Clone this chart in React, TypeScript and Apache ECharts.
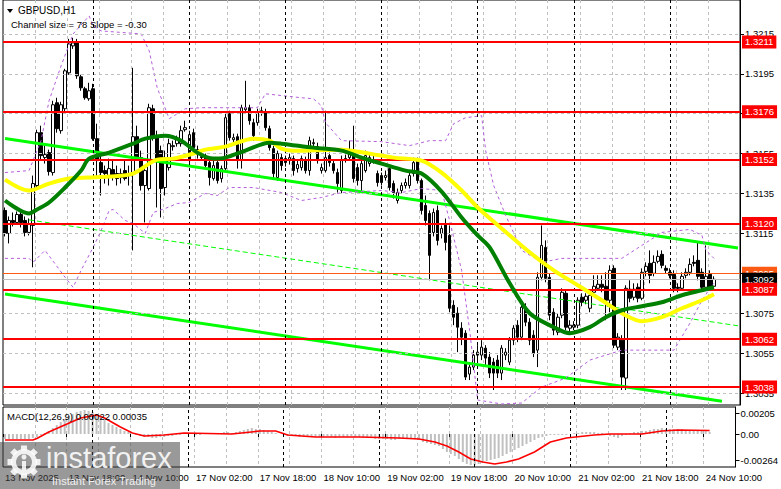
import React, { useEffect, useRef } from "react";
import * as echarts from "echarts";

const FONT = "'Liberation Sans', Arial, sans-serif";

const tickLabels = ["13 Nov 2025", "13 Nov 18:00", "14 Nov 10:00", "17 Nov 02:00", "17 Nov 18:00", "18 Nov 10:00", "19 Nov 02:00", "19 Nov 18:00", "20 Nov 10:00", "21 Nov 02:00", "21 Nov 18:00", "24 Nov 10:00"];
const daySeparators = [22, 46, 70, 94, 118, 142, 166];

const opens = [1.31265,1.3115,1.31215,1.31205,1.31245,1.31215,1.31155,1.3119,1.3139,1.31655,1.3153,1.31555,1.31455,1.31805,1.31665,1.31775,1.31955,1.3209,1.32105,1.31935,1.31875,1.31825,1.31875,1.31625,1.31505,1.31465,1.31435,1.3147,1.3145,1.3143,1.31465,1.3144,1.31455,1.31635,1.3153,1.3139,1.31375,1.31775,1.3164,1.31565,1.3138,1.3148,1.31585,1.316,1.316,1.3167,1.31515,1.31655,1.3157,1.31535,1.3153,1.31505,1.31425,1.31505,1.31425,1.31475,1.3175,1.3162,1.31635,1.31515,1.3177,1.3178,1.31705,1.31705,1.31755,1.3176,1.31675,1.31575,1.3143,1.3153,1.31525,1.31515,1.31525,1.31475,1.3148,1.31515,1.31465,1.316,1.31585,1.31465,1.31465,1.3154,1.315,1.31455,1.31365,1.31525,1.3153,1.31565,1.3148,1.31415,1.31465,1.315,1.3152,1.3145,1.3144,1.3143,1.31475,1.314,1.31315,1.31365,1.3139,1.3139,1.3145,1.31515,1.31415,1.3129,1.3125,1.31155,1.31265,1.3115,1.312,1.3114,1.3079,1.3075,1.30675,1.3065,1.30445,1.3048,1.3054,1.3054,1.30575,1.3053,1.30505,1.30515,1.3045,1.3054,1.30505,1.30615,1.3069,1.3063,1.3078,1.30705,1.3064,1.30565,1.3093,1.3108,1.3093,1.30755,1.30655,1.3074,1.3085,1.30675,1.3068,1.3069,1.3083,1.30815,1.30775,1.30855,1.30875,1.30895,1.30885,1.30815,1.30975,1.3058,1.30615,1.30425,1.3087,1.3083,1.3088,1.30825,1.3096,1.31,1.3095,1.3101,1.31045,1.30975,1.30955,1.30945,1.3088,1.30875,1.3094,1.30955,1.31005,1.31015,1.30955,1.3088,1.30945,1.30885];
const closes = [1.3115,1.31215,1.31205,1.31245,1.31205,1.31155,1.312,1.314,1.31655,1.3154,1.31545,1.3146,1.31795,1.31675,1.31795,1.31965,1.321,1.32105,1.3194,1.3188,1.3183,1.31865,1.31625,1.31515,1.31455,1.3145,1.31475,1.31435,1.31425,1.3145,1.31425,1.3145,1.31635,1.3153,1.3139,1.31465,1.3178,1.3164,1.31515,1.31375,1.3153,1.316,1.3159,1.31625,1.31665,1.3168,1.31645,1.3158,1.31545,1.3153,1.3149,1.3143,1.3149,1.31415,1.31475,1.3173,1.3163,1.3163,1.31515,1.3178,1.3178,1.31715,1.3164,1.31755,1.31765,1.3168,1.3158,1.3145,1.3155,1.3149,1.31505,1.3153,1.31465,1.31495,1.31525,1.31465,1.31615,1.31605,1.31515,1.3148,1.3153,1.31505,1.31465,1.314,1.31515,1.3152,1.31555,1.31425,1.31415,1.315,1.3154,1.3153,1.31515,1.31405,1.31405,1.3144,1.3138,1.31355,1.31355,1.3139,1.31405,1.3144,1.31505,1.31415,1.31265,1.31215,1.3104,1.31255,1.31115,1.31175,1.31105,1.30775,1.3073,1.3068,1.3063,1.3043,1.3048,1.3054,1.30555,1.3058,1.30525,1.3045,1.3045,1.3045,1.30575,1.30555,1.30615,1.30675,1.3063,1.3078,1.30705,1.30615,1.3055,1.3093,1.3109,1.30925,1.3074,1.30665,1.3073,1.30855,1.3068,1.3069,1.3069,1.30815,1.30805,1.30835,1.3084,1.30885,1.30895,1.3088,1.30815,1.30965,1.3059,1.3063,1.3043,1.30875,1.30825,1.3087,1.30825,1.30955,1.30985,1.3094,1.31005,1.31035,1.3099,1.30965,1.3094,1.30875,1.30875,1.30935,1.30955,1.30995,1.31,1.30935,1.3088,1.30935,1.3088,1.3092];
const highs = [1.3128,1.31235,1.31255,1.3126,1.31265,1.31235,1.31225,1.3144,1.3167,1.3169,1.3159,1.3157,1.31815,1.3183,1.3181,1.31975,1.32125,1.3213,1.32125,1.31945,1.31885,1.31905,1.319,1.317,1.3154,1.3149,1.31525,1.31515,1.3149,1.31475,1.31515,1.3149,1.3198,1.3169,1.31565,1.3149,1.318,1.31795,1.31665,1.3159,1.31565,1.31625,1.31615,1.3164,1.3169,1.31715,1.31665,1.31675,1.3159,1.31565,1.3155,1.31525,1.31515,1.31525,1.3149,1.31755,1.31765,1.3165,1.3165,1.31795,1.31915,1.31795,1.31725,1.31775,1.31785,1.31775,1.3169,1.3159,1.31565,1.3155,1.3154,1.3155,1.3154,1.31515,1.3154,1.31535,1.31635,1.31625,1.31605,1.315,1.31765,1.31555,1.31515,1.31475,1.3154,1.31545,1.31615,1.3169,1.315,1.31515,1.31565,1.3155,1.31545,1.31465,1.31455,1.31465,1.3149,1.31415,1.31375,1.31405,1.31425,1.31455,1.3153,1.3153,1.31425,1.3134,1.31265,1.31275,1.3129,1.3119,1.31225,1.3119,1.30815,1.3078,1.30705,1.30665,1.30505,1.30565,1.3059,1.30615,1.3059,1.30555,1.30525,1.3054,1.3059,1.30575,1.3063,1.3069,1.30715,1.30795,1.308,1.30725,1.30665,1.30955,1.3119,1.31115,1.3095,1.30775,1.3075,1.30875,1.30865,1.30715,1.3071,1.3083,1.3085,1.3085,1.30865,1.3094,1.3094,1.3094,1.30955,1.3099,1.3099,1.3065,1.3064,1.3089,1.30915,1.309,1.309,1.30975,1.31005,1.31065,1.3104,1.31065,1.31065,1.3099,1.30975,1.30965,1.309,1.30955,1.30975,1.31025,1.3104,1.31105,1.30975,1.3109,1.30965,1.30935];
const lows = [1.31135,1.311,1.31185,1.31195,1.3118,1.31135,1.3114,1.3098,1.31375,1.31515,1.315,1.3144,1.3144,1.31655,1.3165,1.31755,1.31945,1.32075,1.31925,1.31865,1.3182,1.31815,1.31615,1.31425,1.3134,1.314,1.3139,1.31415,1.3139,1.314,1.31415,1.3139,1.31065,1.31515,1.31365,1.31205,1.31365,1.31615,1.3128,1.3123,1.3134,1.31465,1.31565,1.31585,1.31585,1.3166,1.3149,1.31565,1.31525,1.31515,1.31475,1.3139,1.31415,1.314,1.31405,1.31465,1.31615,1.31605,1.31475,1.31475,1.31755,1.31695,1.31615,1.3169,1.3174,1.31665,1.31565,1.31425,1.31415,1.31465,1.31485,1.31495,1.3144,1.31455,1.31465,1.3145,1.3144,1.31585,1.315,1.3145,1.31455,1.31485,1.3145,1.31355,1.3135,1.31505,1.31515,1.31405,1.3139,1.31355,1.31455,1.31485,1.315,1.31385,1.3139,1.31415,1.31365,1.31325,1.313,1.3135,1.31375,1.31375,1.31435,1.314,1.31245,1.3119,1.30915,1.31135,1.3109,1.31125,1.31065,1.30755,1.3069,1.30555,1.3059,1.30415,1.30415,1.30465,1.30515,1.30515,1.3049,1.30425,1.30365,1.30425,1.30415,1.30515,1.3049,1.3059,1.30605,1.30615,1.30685,1.3059,1.3053,1.3048,1.30915,1.30905,1.30715,1.3064,1.3064,1.30725,1.30665,1.30655,1.30665,1.30675,1.30785,1.30795,1.30755,1.30845,1.30865,1.30855,1.30715,1.30755,1.30575,1.30565,1.30365,1.30365,1.30805,1.30815,1.30805,1.30815,1.30935,1.309,1.30935,1.31,1.30975,1.3095,1.30925,1.30855,1.30855,1.30865,1.30925,1.3094,1.30985,1.30915,1.3087,1.30865,1.3087,1.30875];

// moving averages at sample bars: [bar index, price]
const yellowMA = [[0,1.3142],[6,1.31365],[11,1.3140],[16,1.31425],[21,1.3143],[26,1.31435],[32,1.3145],[38,1.3152],[42,1.31525],[47,1.3155],[50,1.3157],[55,1.31585],[62,1.31625],[66,1.31615],[69,1.31575],[72,1.31565],[84,1.3157],[91,1.3155],[97,1.3153],[104,1.31515],[109,1.31455],[114,1.31365],[118,1.3128],[124,1.31175],[131,1.31055],[137,1.30965],[143,1.3089],[149,1.30815],[154,1.3075],[159,1.3071],[164,1.3073],[169,1.30775],[174,1.30815],[177,1.30845]];
const greenMA = [[0,1.31315],[6,1.3125],[8,1.3127],[11,1.31305],[15,1.3138],[19,1.31465],[21,1.31525],[26,1.31555],[32,1.3160],[35,1.31625],[40,1.3164],[44,1.31615],[48,1.31555],[52,1.31525],[55,1.3153],[60,1.31565],[66,1.31605],[69,1.3160],[77,1.3158],[84,1.31565],[89,1.3153],[94,1.3150],[100,1.31465],[104,1.3145],[109,1.3136],[114,1.3123],[118,1.3114],[121,1.3108],[126,1.3090],[131,1.3075],[137,1.3068],[141,1.3065],[146,1.3068],[150,1.3073],[154,1.30765],[159,1.30785],[164,1.30805],[169,1.3084],[174,1.30865],[177,1.3088]];
const upperBand = [[0,1.31455],[6,1.31465],[7,1.31515],[9,1.31615],[11,1.31815],[14,1.3199],[17,1.3215],[21,1.3224],[22,1.3219],[24,1.32165],[34,1.3215],[36,1.32065],[38,1.3188],[41,1.31725],[45,1.31775],[49,1.3178],[63,1.3178],[65,1.3185],[74,1.3183],[77,1.31825],[79,1.3179],[80,1.31705],[84,1.31615],[94,1.3161],[101,1.3159],[106,1.31615],[110,1.31615],[112,1.3170],[115,1.3173],[119,1.3174],[120,1.31565],[122,1.3139],[125,1.3124],[129,1.31065],[134,1.31005],[139,1.31025],[154,1.31025],[159,1.3109],[164,1.31155],[171,1.3117],[174,1.3114],[175,1.31065],[177,1.31025]];
const lowerBand = [[0,1.31025],[6,1.31025],[7,1.31005],[10,1.31065],[15,1.3093],[17,1.3088],[19,1.30965],[22,1.3108],[24,1.31165],[26,1.31265],[27,1.3127],[30,1.31215],[32,1.3120],[35,1.3115],[37,1.31255],[40,1.31275],[43,1.3130],[46,1.31305],[50,1.3135],[53,1.3134],[56,1.3138],[62,1.3138],[69,1.31355],[74,1.31315],[79,1.3133],[84,1.31355],[94,1.31365],[99,1.31355],[104,1.31375],[109,1.31365],[111,1.31215],[114,1.30965],[116,1.30665],[118,1.30315],[124,1.30295],[129,1.3030],[134,1.3038],[140,1.30425],[146,1.30515],[154,1.30565],[167,1.30565],[171,1.3070],[174,1.30815],[176,1.30875],[177,1.3090]];

// regression channel end points: [bar index, price]
const channelUpper = [[0,1.31626],[183,1.31077]];
const channelMiddle = [[6,1.31218],[183,1.30687]];
const channelLower = [[0,1.30846],[179,1.30309]];

const redLevels = [1.3211, 1.3176, 1.3152, 1.3120, 1.3087, 1.3062, 1.3038];
const askPrice = 1.3095;
const bidPrice = 1.3092;
const priceTicks = [1.3035, 1.3055, 1.3075, 1.3095, 1.3115, 1.3135, 1.3155, 1.3175, 1.3195, 1.3215];

const macdHist = [-0.0005,-0.0005,-0.0005,-0.0005,-0.0005,-0.0005,-0.0005,-0.0004,-0.0003,-0.0001,0.0001,0.0003,0.0006,0.0009,0.0012,0.0015,0.0018,0.0020,0.0022,0.0023,0.0024,0.0023,0.0022,0.0020,0.0017,0.0014,0.0011,0.0009,0.0007,0.0005,0.0003,0.0002,0.0000,-0.0001,-0.0002,-0.0003,-0.0003,-0.0004,-0.0004,-0.0003,-0.0003,-0.0002,-0.0002,-0.0001,-0.0001,0.0000,0.0001,0.0000,-0.0001,-0.0001,0.0000,0.0001,0.0001,0.0000,0.0001,0.0002,0.0002,0.0001,0.0002,0.0003,0.0004,0.0005,0.0006,0.0005,0.0005,0.0004,0.0003,0.0002,0.0001,0.0000,-0.0001,-0.0002,-0.0002,-0.0002,-0.0003,-0.0003,-0.0002,-0.0002,-0.0003,-0.0003,-0.0003,-0.0002,-0.0003,-0.0004,-0.0003,-0.0003,-0.0003,-0.0002,-0.0003,-0.0003,-0.0004,-0.0004,-0.0004,-0.0005,-0.0005,-0.0005,-0.0005,-0.0006,-0.0006,-0.0005,-0.0005,-0.0004,-0.0004,-0.0005,-0.0006,-0.0008,-0.0009,-0.0010,-0.0011,-0.0012,-0.0015,-0.0018,-0.0020,-0.0022,-0.0025,-0.0028,-0.0030,-0.0031,-0.0031,-0.0030,-0.0029,-0.0027,-0.0026,-0.0025,-0.0024,-0.0022,-0.0020,-0.0018,-0.0016,-0.0014,-0.0012,-0.0010,-0.0008,-0.0006,-0.0004,-0.0003,-0.0002,-0.0001,-0.0001,-0.0001,-0.0001,-0.0001,0.0000,0.0001,0.0001,0.0002,0.0002,0.0002,0.0002,0.0001,0.0001,0.0000,-0.0002,-0.0003,-0.0004,-0.0002,-0.0001,0.0001,0.0002,0.0002,0.0003,0.0003,0.0004,0.0005,0.0005,0.0006,0.0005,0.0005,0.0005,0.0005,0.0005,0.0004,0.0004,0.0004,0.0003,0.0003,0.0003,0.00022];
const macdSignal = [[0,-0.0006],[7,-0.0006],[8,-0.00045],[11,0.0002],[15,0.0009],[19,0.0016],[23,0.0019],[25,0.0016],[29,0.0007],[32,0.0001],[35,-0.0002],[40,-0.0001],[45,0.0001],[57,0.0],[64,0.0003],[68,0.0003],[71,-0.0001],[78,-0.0003],[89,-0.0003],[99,-0.0004],[104,-0.0005],[108,-0.0008],[111,-0.0012],[114,-0.0018],[117,-0.0025],[120,-0.0028],[123,-0.0030],[126,-0.0028],[129,-0.0025],[133,-0.0018],[137,-0.0008],[141,-0.0004],[148,-0.0001],[152,0.0],[157,0.0],[160,0.0],[165,0.0003],[169,0.0004],[173,0.00038],[177,0.00035]];
const macdTicks = [0.00205, 0, -0.00264];

const SLOTS = 184;

export default function App() {
  const ref = useRef<HTMLDivElement>(null);
  useEffect(() => {
    if (!ref.current) return;
    const chart = echarts.init(ref.current, undefined, { renderer: "svg" });
    const categories = Array.from({ length: SLOTS }, (_, i) =>
      i % 16 === 0 && i / 16 < tickLabels.length ? tickLabels[i / 16] : "b" + i
    );
    const labelInterval = (i: number) => i % 16 === 0;
    const gridInterval = (i: number) => i % 8 === 0 && i > 0;
    const candles = opens.map((o, i) => [o, closes[i], lows[i], highs[i]]);
    const gridStyle = { color: "#C0C0C0", type: [3, 3], width: 1 };
    const sepStyle = { color: "#000", type: [3, 3], width: 1 };

    const boxLabel = (text: string, bg: string) => ({
      show: true,
      position: "end",
      formatter: text,
      color: "#fff",
      backgroundColor: bg,
      padding: [2, 3, 1, 3],
      fontSize: 9.5,
      fontFamily: FONT,
      distance: 2,
    });

    const option: any = {
      animation: false,
      backgroundColor: "#fff",
      textStyle: { fontFamily: FONT },
      grid: [
        { left: 3, right: 41, top: -1, height: 406, show: true, borderColor: "#000", borderWidth: 1, backgroundColor: "#fff" },
        { left: 3, right: 41, top: 407, height: 60, show: true, borderColor: "#000", borderWidth: 1, backgroundColor: "#fff" },
      ],
      xAxis: [
        {
          type: "category", gridIndex: 0, data: categories, boundaryGap: true,
          axisLine: { show: false }, axisTick: { show: false }, axisLabel: { show: false },
          splitLine: { show: true, interval: gridInterval, lineStyle: gridStyle },
        },
        {
          type: "category", gridIndex: 1, data: categories, boundaryGap: true,
          axisLine: { show: false },
          axisTick: { show: true, interval: labelInterval, length: 3, lineStyle: { color: "#000" } },
          axisLabel: {
            show: true, interval: labelInterval, align: "left", fontSize: 9.5, color: "#000", margin: 5,
            fontFamily: FONT, formatter: (v: string) => (v.charAt(0) === "b" ? "" : v),
          },
          splitLine: { show: true, interval: gridInterval, lineStyle: gridStyle },
        },
      ],
      yAxis: [
        {
          type: "value", gridIndex: 0, position: "right", min: 1.3029, max: 1.3232,
          axisLine: { show: true, lineStyle: { color: "#000" } },
          axisTick: { show: true, customValues: priceTicks, length: 4, lineStyle: { color: "#000" } },
          axisLabel: { show: true, customValues: priceTicks, formatter: (v: number) => v.toFixed(4), color: "#000", fontSize: 9.5, margin: 5, fontFamily: FONT },
          splitLine: { show: false },
        },
        {
          type: "value", gridIndex: 1, position: "right", min: -0.0033, max: 0.0027,
          axisLine: { show: true, lineStyle: { color: "#000" } },
          axisTick: { show: true, customValues: macdTicks, length: 4, lineStyle: { color: "#000" } },
          axisLabel: { show: true, customValues: macdTicks, formatter: (v: number) => (v === 0 ? "0.00" : v.toFixed(5)), color: "#000", fontSize: 9.5, margin: 5, fontFamily: FONT },
          splitLine: { show: false },
        },
      ],
      series: [
        {
          type: "line", xAxisIndex: 0, yAxisIndex: 0, data: [], z: 1, silent: true,
          markLine: {
            silent: true, symbol: ["none", "none"], animation: false, precision: 6,
            label: { show: false },
            data: [
              ...priceTicks.map((v) => ({ yAxis: v, lineStyle: gridStyle })),
              ...daySeparators.map((i) => ({ xAxis: categories[i], lineStyle: sepStyle })),
            ],
          },
        },
        {
          type: "line", xAxisIndex: 1, yAxisIndex: 1, data: [], z: 1, silent: true,
          markLine: {
            silent: true, symbol: ["none", "none"], animation: false, precision: 6,
            label: { show: false },
            data: daySeparators.map((i) => ({ xAxis: categories[i], lineStyle: sepStyle })),
          },
        },
        {
          type: "candlestick", xAxisIndex: 0, yAxisIndex: 0, data: candles, barWidth: 3, z: 3,
          itemStyle: { color: "#fff", color0: "#000", borderColor: "#000", borderColor0: "#000", borderWidth: 1 },
        },
        { type: "line", data: channelUpper, showSymbol: false, z: 4, lineStyle: { color: "#00FF00", width: 3 } },
        { type: "line", data: channelMiddle, showSymbol: false, z: 4, lineStyle: { color: "#00FF00", width: 1, type: [5, 3] } },
        { type: "line", data: channelLower, showSymbol: false, z: 4, lineStyle: { color: "#00FF00", width: 3 } },
        { type: "line", data: upperBand, showSymbol: false, z: 4, lineStyle: { color: "#B45EDC", width: 1, type: [3, 3] } },
        { type: "line", data: lowerBand, showSymbol: false, z: 4, lineStyle: { color: "#B45EDC", width: 1, type: [3, 3] } },
        { type: "line", data: yellowMA, showSymbol: false, smooth: 0.3, z: 5, lineStyle: { color: "#FFFF00", width: 4 } },
        { type: "line", data: greenMA, showSymbol: false, smooth: 0.3, z: 5, lineStyle: { color: "#008000", width: 4 } },
        {
          type: "line", data: [], z: 8, silent: true,
          markLine: {
            silent: true, symbol: ["none", "none"], animation: false, precision: 6,
            data: [
              { yAxis: askPrice, lineStyle: { color: "#FF5A14", width: 1, type: "solid" }, label: boxLabel(askPrice.toFixed(4), "#FF5A14") },
              { yAxis: bidPrice, lineStyle: { color: "#C0C0C0", width: 1, type: "solid" }, label: boxLabel(bidPrice.toFixed(4), "#000") },
            ],
          },
        },
        {
          type: "line", data: [], z: 9, silent: true,
          markLine: {
            silent: true, symbol: ["none", "none"], animation: false, precision: 6,
            data: redLevels.map((v) => ({ yAxis: v, lineStyle: { color: "#FF0000", width: 2, type: "solid" }, label: boxLabel(v.toFixed(4), "#FF0000") })),
          },
        },
        { type: "bar", xAxisIndex: 1, yAxisIndex: 1, data: macdHist, barWidth: 2, z: 3, itemStyle: { color: "#C0C0C0" } },
        { type: "line", xAxisIndex: 1, yAxisIndex: 1, data: macdSignal, showSymbol: false, z: 4, lineStyle: { color: "#FF0000", width: 1.5 } },
      ],
      graphic: [
        { type: "polygon", shape: { points: [[7, 9], [13, 9], [10, 13]] }, style: { fill: "#000" }, z: 20 },
        { type: "text", x: 18, y: 5, style: { text: "GBPUSD,H1", fill: "#000", font: `10px ${FONT}` }, z: 20 },
        { type: "text", x: 11, y: 19, style: { text: "Channel size = 78 Slope = -0.30", fill: "#000", font: `9.5px ${FONT}` }, z: 20 },
        { type: "text", x: 7, y: 411, style: { text: "MACD(12,26,9) 0.00022 0.00035", fill: "#000", font: `9.5px ${FONT}` }, z: 20 },
        {
          type: "group", z: 30, children: [
            { type: "rect", shape: { x: 0, y: 442, width: 180, height: 47 }, style: { fill: "rgba(70,70,70,0.55)" }, z: 30 },
            { type: "ring", shape: { cx: 24, cy: 462, r: 13, r0: 8 }, style: { fill: "rgba(255,255,255,0.85)" }, z: 31 },
            ...[0, 1, 2, 3, 4, 5, 6, 7].map((k) => ({
              type: "rect",
              x: 24 + Math.cos((k * Math.PI) / 4) * 14,
              y: 462 + Math.sin((k * Math.PI) / 4) * 14,
              rotation: -(k * Math.PI) / 4,
              shape: { x: -2.5, y: -3, width: 5, height: 6 },
              style: { fill: "rgba(255,255,255,0.85)" },
              z: 31,
            })),
            { type: "circle", shape: { cx: 24, cy: 457, r: 2.5 }, style: { fill: "rgba(255,255,255,0.85)" }, z: 31 },
            { type: "rect", shape: { x: 22, y: 461, width: 4, height: 9 }, style: { fill: "rgba(255,255,255,0.85)" }, z: 31 },
            { type: "text", x: 46, y: 443, style: { text: "instaforex", fill: "rgba(255,255,255,0.88)", font: `29px ${FONT}` }, z: 31 },
            { type: "text", x: 52, y: 475, style: { text: "Instant Forex Trading", fill: "rgba(255,255,255,0.88)", font: `11px ${FONT}` }, z: 31 },
          ],
        },
      ],
    };
    chart.setOption(option);
    return () => chart.dispose();
  }, []);
  return <div ref={ref} style={{ position: "fixed", left: 0, top: 0, width: 781, height: 489, background: "#fff" }} />;
}
